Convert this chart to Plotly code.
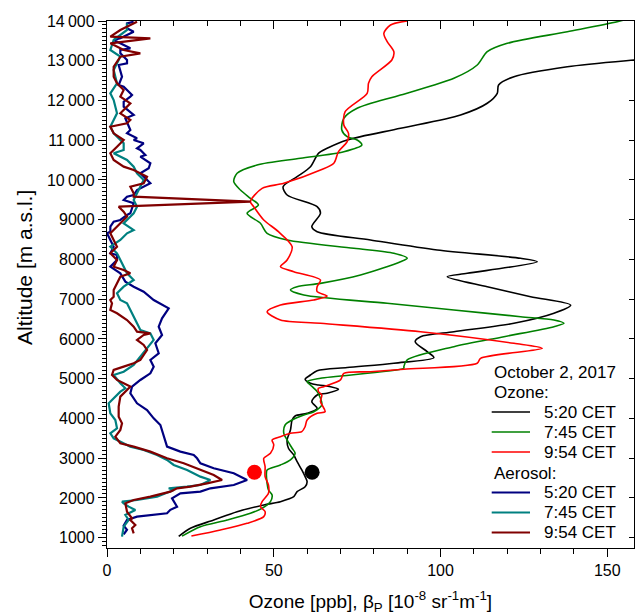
import plotly.graph_objects as go

# ---------------- data ----------------
# Ozone profiles: altitude [m a.s.l.] and ozone [ppb]
oz_520_alt = [1030, 1236, 1445, 1654, 1823, 1906, 2031, 2157, 2283, 2408, 2534, 2703, 2912, 3080, 3249, 3458,
              3710, 3961, 4062, 4129, 4255, 4422, 4590, 4633, 4733, 4799, 4842, 4884, 4985, 5093, 5200, 5280,
              5390, 5530, 5680, 5931, 6057, 6183, 6394, 6646, 6850, 7063, 7315, 7567, 7651, 7944, 8030, 8238,
              8490, 8699, 8825, 9162, 9328, 9622, 9830, 10083, 10334, 10671, 10797, 11006, 11300, 11635, 11930,
              12181, 12390, 12599, 12850, 13019, 13100]
oz_520_val = [21.5, 25.0, 32, 39, 47, 52, 56, 57, 59.4, 60, 59.4, 58.4, 57, 56, 54.4, 54,
              55, 55.5, 56.4, 60, 63, 61.4, 63, 66, 69.4, 67, 63.4, 61, 59.4, 61, 63, 72,
              86, 98, 96, 92.4, 94, 104, 122, 134, 139, 127, 114, 102, 108, 129, 124, 99,
              79, 63, 61.4, 64, 63, 54, 52.8, 57, 61, 63.4, 66, 72, 88, 106, 114,
              117, 117.4, 122, 138, 158, 170]

oz_745_alt = [1040, 1277, 1445, 1613, 1739, 1906, 2074, 2200, 2368, 2620, 2703, 2829, 2955, 3123, 3249, 3458,
              3626, 3835, 3961, 4087, 4170, 4339, 4507, 4674, 4842, 4926, 5010, 5262, 5303, 5471, 5806, 6057,
              6309, 6394, 6477, 6560, 6729, 6897, 7106, 7232, 7315, 7399, 7609, 7944, 8030, 8155, 8281, 8490,
              8658, 8910, 9162, 9371, 9539, 9748, 9957, 10168, 10377, 10545, 10712, 10880, 11006, 11090, 11257,
              11551, 11803, 12138, 12558, 12893, 13228, 13439, 13731, 13982, 14100]
oz_745_val = [22.5, 28, 36, 43, 46.5, 49, 49.5, 48.4, 48, 47.8, 48, 52, 55, 56.4, 55.5, 54,
              53, 53.4, 55.5, 59, 62, 64.4, 64, 63, 61, 60, 64, 89, 89, 90, 104, 119,
              134, 137, 134, 124, 104, 84, 59, 55, 57, 64, 76, 88, 90, 86, 74, 54,
              48, 46, 42, 45.4, 43, 40, 38, 39, 45, 58, 71, 76.4, 75, 72, 70.4,
              71, 75, 88, 104, 111, 114, 120, 138, 153, 158]

oz_954_alt = [1040, 1194, 1361, 1529, 1654, 1780, 1906, 2116, 2326, 2535, 2787, 2997, 3123, 3332, 3458, 3541,
              3626, 3667, 3793, 3961, 4129, 4170, 4422, 4590, 4674, 4758, 4800, 4968, 5135, 5175, 5236, 5388,
              5513, 5765, 5890, 6183, 6394, 6477, 6686, 6855, 6980, 7080, 7190, 7315, 7483, 7693, 7818, 7987,
              8322, 8699, 8993, 9328, 9454, 9789, 9916, 10251, 10419, 10712, 10964, 11174, 11383, 11718, 12181,
              12432, 12599, 13019, 13228, 13480, 13690, 13900, 14000]
oz_954_val = [25.3, 34, 42, 47, 47.4, 46, 46.5, 48.4, 48.4, 47.4, 47.4, 47, 49, 50, 49.5, 52,
              55, 58.4, 59.4, 60, 63, 65.4, 64, 64.4, 63.4, 63.4, 65, 70, 71, 79, 89, 111,
              112, 130.5, 122, 94, 64, 52, 48, 52, 62, 66, 63, 63, 64, 56, 52, 54,
              55.5, 51.4, 47, 44, 43, 46.5, 53, 64, 68, 69.4, 72, 72.4, 71, 71.4, 78,
              78.4, 79.4, 85.4, 86, 84, 83, 85, 90]

# Aerosol backscatter profiles: altitude [m a.s.l.] and beta_P [1e-8 sr-1 m-1]
ae_520_alt = [1080, 1200, 1300, 1445, 1529, 1613, 1700, 1780, 1990, 2116, 2158, 2242, 2326, 2452, 2620, 2746,
              2872, 2997, 3081, 3165, 3290, 3541, 3835, 4003, 4213, 4381, 4633, 4800, 4968, 5135, 5303, 5471,
              5640, 5891, 6100, 6309, 6520, 6771, 6897, 6980, 7190, 7315, 7441, 7650, 7818, 7987, 8112, 8155,
              8322, 8658, 8699, 8825, 8950, 8993, 9119, 9162, 9413, 9497, 9580, 9622, 9748, 9790, 9916, 10168,
              10294, 10419, 10586, 10629, 10754, 10797, 10923, 11006, 11049, 11174, 11257, 11552, 11635, 11844,
              11970, 12097, 12138, 12347, 12390, 12599, 12893, 12936, 13019, 13187, 13270, 13313, 13522, 13564,
              13731, 13816, 13942, 13982]
ae_520_val = [5, 6, 5, 6, 9, 18, 19, 21, 19.5, 22, 28, 31, 38, 42, 38, 32,
              28, 27, 26, 22, 18, 17, 16, 14, 12, 9, 7, 7.5, 10, 13, 14, 13,
              15.5, 14.5, 16.5, 15.5, 16.5, 18.5, 16, 14, 11, 8, 5.5, 4, 1, 3, 3, 1,
              2, 0, 1, 1, 2, 4, 6, 7, 8, 5, 6, 8, 9, 10, 13, 10,
              12.5, 13, 10, 11.5, 10, 9, 11, 8, 9, 6, 7, 5.5, 8, 5,
              5, 7, 7.5, 5, 3.5, 4.5, 3.5, 6, 6, 4, 4, 7, 2, 4,
              8, 6, 6, 8]

ae_745_alt = [1025, 1277, 1445, 1570, 1697, 1780, 1864, 1906, 1948, 2032, 2200, 2242, 2284, 2326, 2410, 2452,
              2535, 2703, 2829, 2955, 3080, 3207, 3290, 3500, 3626, 3751, 3961, 4129, 4381, 4507, 4674, 4758,
              4884, 5093, 5175, 5345, 5555, 5765, 5974, 6142, 6226, 6394, 6560, 6729, 6897, 6980, 7148, 7315,
              7483, 7651, 7818, 8155, 8322, 8490, 8658, 8741, 8909, 9162, 9328, 9497, 9664, 9831, 9999, 10168,
              10335, 10503, 10671, 10755, 10923, 11174, 11340, 11678, 12012, 12180, 12432, 12767, 13102, 13270,
              13522, 13774, 13942]
ae_745_val = [4.5, 5, 6.5, 5.5, 8.5, 6.5, 5, 4.5, 9, 15, 20, 18.5, 24, 28, 30, 31,
              28, 24, 20, 18, 15, 11, 7, 2, 1, 3, 2.5, 1, 0.5, 2, 4, 5.5,
              4, 2, 5, 8, 10, 12, 14, 13, 10, 9, 8, 7, 6, 4, 3, 5,
              8, 6, 5, 3, 1, 4, 6, 8, 5, 8, 9, 8, 9, 10, 11, 9,
              8, 6, 2, 5, 5, 2, 1, 3, 2, 1, 3, 2, 4, 1,
              2, 6, 6]

ae_954_alt = [1109, 1236, 1320, 1445, 1487, 1654, 1864, 1948, 2032, 2158, 2242, 2284, 2368, 2452, 2578, 2703,
              2872, 2997, 3165, 3290, 3374, 3541, 3710, 3877, 4045, 4297, 4549, 4716, 4800, 4884, 4968, 5093,
              5219, 5303, 5387, 5471, 5722, 5848, 5974, 6100, 6142, 6183, 6309, 6477, 6646, 6729, 6897, 6980,
              7063, 7232, 7400, 7567, 7651, 7735, 7818, 7987, 8155, 8322, 8490, 8658, 8910, 9077, 9202, 9328,
              9454, 9580, 9664, 9831, 9916, 10083, 10251, 10335, 10503, 10671, 10838, 11006, 11174, 11341,
              11425, 11509, 11677, 11844, 11929, 12095, 12264, 12432, 12599, 12850, 13102, 13186, 13270, 13438,
              13564, 13606, 13774, 13982]
ae_954_val = [8, 7.5, 8.5, 7, 7.5, 6, 5.5, 8, 13, 19, 21, 25, 30, 34.5, 32, 28,
              23, 18, 13, 8, 4, 2.5, 4, 4.5, 3.5, 3.5, 4, 6, 7, 5, 3, 1.5,
              2, 5, 8, 10, 12, 11, 9, 11, 13, 9, 8, 6, 3, 1, 1.5, 1,
              2, 2, 3, 4, 7, 5, 2, 3, 1, 3, 2, 1, 4, 6, 5, 3.5,
              43, 8, 8, 7, 11, 12, 8, 5, 2, 1, 3, 5, 2, 1,
              6, 7, 4, 6, 7, 4, 5, 3, 2, 2, 4, 10, 5, 1,
              13, 1, 4, 9]

# Start points of the profiles (markers)
mark_alt = [2645, 2645]
mark_val = [44.2, 61.5]
mark_col = ["#ff0000", "#000000"]

time_labels = ["5:20 CET", "7:45 CET", "9:54 CET"]
ozone_colors = ["#000000", "#008000", "#ff0000"]
aerosol_colors = ["#000080", "#008080", "#800000"]
legend_title = "October 2, 2017"
group_titles = ["Ozone:", "Aerosol:"]

y_ticks = list(range(1000, 14001, 1000))
y_ticktext = [f"{v // 1000}\u2009{v % 1000:03d}" if v >= 10000 else str(v) for v in y_ticks]
x_ticks = [0, 50, 100, 150]

FONT = "Liberation Sans, Arial, sans-serif"

fig = go.Figure()

ozone = [(oz_520_val, oz_520_alt), (oz_745_val, oz_745_alt), (oz_954_val, oz_954_alt)]
aerosol = [(ae_520_val, ae_520_alt), (ae_745_val, ae_745_alt), (ae_954_val, ae_954_alt)]

for i, (xv, yv) in enumerate(ozone):
    fig.add_trace(go.Scatter(
        x=xv, y=yv, mode="lines", name="Ozone " + time_labels[i], showlegend=False,
        line=dict(color=ozone_colors[i], width=1.6, shape="spline", smoothing=0.8),
    ))

for i, (xv, yv) in enumerate(aerosol):
    fig.add_trace(go.Scatter(
        x=xv, y=yv, mode="lines", name="Aerosol " + time_labels[i], showlegend=False,
        line=dict(color=aerosol_colors[i], width=2.2),
    ))

fig.add_trace(go.Scatter(
    x=mark_val, y=mark_alt, mode="markers", showlegend=False,
    marker=dict(size=15, color=mark_col, line=dict(width=0)),
))

# helper trace for mirrored (top/right) axes
fig.add_trace(go.Scatter(x=[], y=[], xaxis="x2", yaxis="y2", showlegend=False, hoverinfo="skip"))

# ---------------- hand-made legend (paper coordinates) ----------------
PL, PR, PT, PB = 107, 634, 21, 548          # plot area in pixels
def px(xp):
    return (xp - PL) / (PR - PL)
def py(yp):
    return (PB - yp) / (PB - PT)

annotations = []
shapes = []
LF = 17
annotations.append(dict(text=legend_title, x=px(492), y=py(372), xref="paper", yref="paper",
                        xanchor="left", yanchor="middle", showarrow=False, font=dict(size=LF)))
annotations.append(dict(text=group_titles[0], x=px(492), y=py(392), xref="paper", yref="paper",
                        xanchor="left", yanchor="middle", showarrow=False, font=dict(size=LF)))
annotations.append(dict(text=group_titles[1], x=px(492), y=py(473), xref="paper", yref="paper",
                        xanchor="left", yanchor="middle", showarrow=False, font=dict(size=LF)))
row_y_oz = [412, 432, 452]
row_y_ae = [492.5, 512.5, 532.5]
for rows, cols, lw in ((row_y_oz, ozone_colors, 1.6), (row_y_ae, aerosol_colors, 2.2)):
    for yy, col, lab in zip(rows, cols, time_labels):
        shapes.append(dict(type="line", xref="paper", yref="paper", x0=px(491.7), x1=px(530),
                           y0=py(yy), y1=py(yy), line=dict(color=col, width=lw)))
        annotations.append(dict(text=lab, x=px(542), y=py(yy), xref="paper", yref="paper",
                                xanchor="left", yanchor="middle", showarrow=False, font=dict(size=LF)))

# y-axis title
annotations.append(dict(text="Altitude [m a.s.l.]", textangle=-90, x=px(24), y=py(268),
                        xref="paper", yref="paper", xanchor="center", yanchor="middle",
                        showarrow=False, font=dict(size=21)))

XR = [0, 158]
YR = [740, 14000]

fig.update_layout(
    width=635, height=615,
    margin=dict(l=PL, r=635 - PR, t=PT, b=615 - PB),
    paper_bgcolor="white", plot_bgcolor="white",
    font=dict(family=FONT, size=16, color="black"),
    showlegend=False,
    annotations=annotations,
    shapes=shapes,
    xaxis=dict(
        range=XR, showgrid=False, zeroline=False,
        showline=True, linecolor="black", linewidth=1.3,
        tickmode="array", tickvals=x_ticks, ticktext=[str(v) for v in x_ticks],
        ticks="outside", ticklen=8, tickwidth=1.3, tickcolor="black",
        minor=dict(ticks="outside", dtick=10, ticklen=5, tickwidth=1.3, tickcolor="black", showgrid=False),
        tickfont=dict(size=16, family=FONT),
        title=dict(text="Ozone [ppb], β<sub>P</sub> [10<sup>-8</sup> sr<sup>-1</sup>m<sup>-1</sup>]",
                   font=dict(size=19, family=FONT), standoff=16),
    ),
    yaxis=dict(
        range=YR, showgrid=False, zeroline=False,
        showline=True, linecolor="black", linewidth=1.3,
        tickmode="array", tickvals=y_ticks, ticktext=y_ticktext,
        ticks="outside", ticklen=8, tickwidth=1.3, tickcolor="black",
        minor=dict(ticks="outside", dtick=100, tick0=0, ticklen=4, tickwidth=1, tickcolor="black", showgrid=False),
        tickfont=dict(size=16, family=FONT),
    ),
    xaxis2=dict(
        range=XR, overlaying="x", side="top", showgrid=False, zeroline=False,
        showline=True, linecolor="black", linewidth=1.3,
        tickmode="array", tickvals=x_ticks, showticklabels=False,
        ticks="inside", ticklen=8, tickwidth=1.3, tickcolor="black",
        minor=dict(ticks="inside", dtick=10, ticklen=5, tickwidth=1.3, tickcolor="black", showgrid=False),
    ),
    yaxis2=dict(
        range=YR, overlaying="y", side="right", showgrid=False, zeroline=False,
        showline=True, linecolor="black", linewidth=1.3,
        tickmode="array", tickvals=y_ticks, showticklabels=False,
        ticks="inside", ticklen=5, tickwidth=1.3, tickcolor="black",
    ),
)

fig.write_html("out.html")
